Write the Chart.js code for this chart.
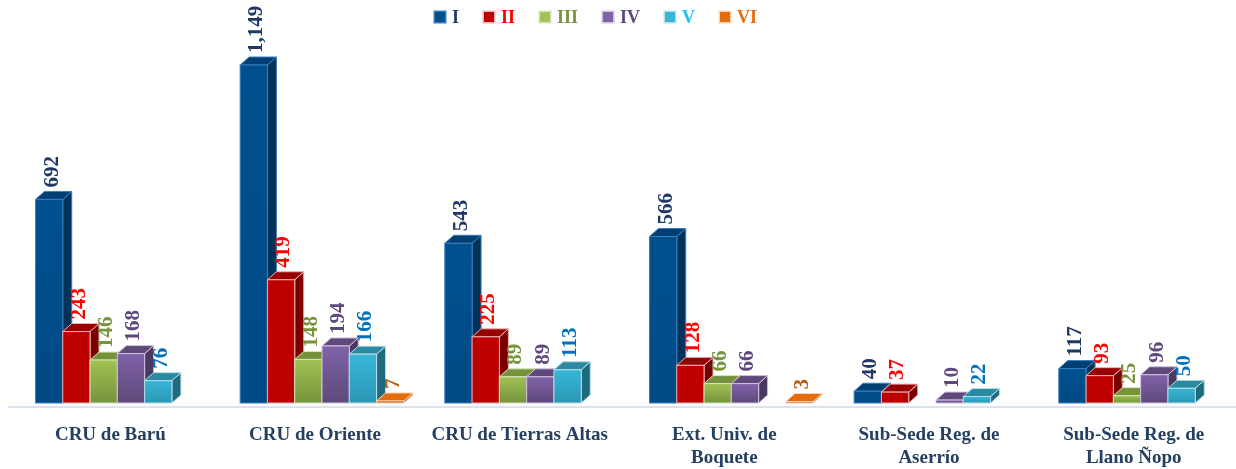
<!DOCTYPE html>
<html>
<head>
<meta charset="utf-8">
<script src="https://cdn.jsdelivr.net/npm/chart.js@4.4.0/dist/chart.umd.min.js"></script>
<style>
html, body { margin: 0; padding: 0; background: #fff; }
#wrap { width: 1236px; height: 469px; position: relative; }
</style>
</head>
<body>
<div id="wrap"><canvas id="chart"></canvas></div>
<script>
const categories = [
    ["CRU de Barú"],
    ["CRU de Oriente"],
    ["CRU de Tierras Altas"],
    ["Ext. Univ. de", "Boquete"],
    ["Sub-Sede Reg. de", "Aserrío"],
    ["Sub-Sede Reg. de", "Llano Ñopo"]
];
const seriesNames = ["I", "II", "III", "IV", "V", "VI"];
const serieI = [692, 1149, 543, 566, 40, 117];
const serieII = [243, 419, 225, 128, 37, 93];
const serieIII = [146, 148, 89, 66, null, 25];
const serieIV = [168, 194, 89, 66, 10, 96];
const serieV = [76, 166, 113, null, 22, 50];
const serieVI = [null, 7, null, 3, null, null];

// colores de cada serie: frente (arriba, abajo), lado, tapa, borde, texto
const estilos = [
    { front: ["#00508e", "#004a85"], side: "#00325a", top: "#003f72", line: "#3a7fc0", text: "#1f3864", legend: "#1f3d6b" },
    { front: ["#c00000", "#bc0000"], side: "#7a0000", top: "#960000", line: "#e8b4b4", text: "#ff0000", legend: "#ff0000" },
    { front: ["#a1c254", "#76933c"], side: "#5c7430", top: "#76933c", line: "#d6e4bc", text: "#77933c", legend: "#77933c" },
    { front: ["#8062a8", "#5f497a"], side: "#4a3a62", top: "#5f497a", line: "#cfc2de", text: "#5f497a", legend: "#5f497a" },
    { front: ["#38b6d8", "#2a97b4"], side: "#1f6a7e", top: "#2b8aa2", line: "#b6dee8", text: "#0070c0", legend: "#22c0f0" },
    { front: ["#c55a11", "#c55a11"], side: "#9a4a10", top: "#e46c0a", line: "#fbd4b4", text: "#b5600f", legend: "#e36c09" }
];

const DX = 9, DY = 8, SHIFT = 7;
const serif = "'Liberation Serif', 'DejaVu Serif', serif";

const bars3d = {
    id: "bars3d",
    beforeDatasetsDraw(chart) {
        const ctx = chart.ctx;
        const a = chart.chartArea;
        ctx.save();
        ctx.strokeStyle = "#d9e2ee";
        ctx.lineWidth = 2;
        ctx.beginPath();
        ctx.moveTo(a.left, a.bottom + 4);
        ctx.lineTo(a.right, a.bottom + 4);
        ctx.stroke();
        ctx.restore();
    },
    afterDatasetsDraw(chart) {
        const ctx = chart.ctx;
        const labels = [];
        for (let j = 0; j < categories.length; j++) {
            chart.data.datasets.forEach((ds, i) => {
                const v = ds.data[j];
                if (v == null) return;
                const bar = chart.getDatasetMeta(i).data[j];
                const st = estilos[i];
                const x0 = bar.x - bar.width / 2 + SHIFT;
                const x1 = bar.x + bar.width / 2 + SHIFT;
                const base = bar.base;
                const top = Math.min(bar.y, base - 1.5);
                ctx.save();
                ctx.lineWidth = 1;
                ctx.strokeStyle = st.line;
                // lado
                ctx.fillStyle = st.side;
                ctx.beginPath();
                ctx.moveTo(x1, base);
                ctx.lineTo(x1 + DX, base - DY);
                ctx.lineTo(x1 + DX, top - DY);
                ctx.lineTo(x1, top);
                ctx.closePath();
                ctx.fill();
                ctx.stroke();
                // tapa
                ctx.fillStyle = st.top;
                ctx.beginPath();
                ctx.moveTo(x0, top);
                ctx.lineTo(x0 + DX, top - DY);
                ctx.lineTo(x1 + DX, top - DY);
                ctx.lineTo(x1, top);
                ctx.closePath();
                ctx.fill();
                ctx.stroke();
                // frente
                const g = ctx.createLinearGradient(0, top, 0, base);
                g.addColorStop(0, st.front[0]);
                g.addColorStop(1, st.front[1]);
                ctx.fillStyle = g;
                ctx.fillRect(x0, top, x1 - x0, base - top);
                ctx.strokeRect(x0, top, x1 - x0, base - top);
                ctx.restore();
                labels.push({ x: bar.x + SHIFT + 3, y: top - DY - 4, text: v.toLocaleString("en-US"), color: st.text });
            });
        }
        ctx.save();
        ctx.font = "bold 21px " + serif;
        ctx.textAlign = "left";
        ctx.textBaseline = "middle";
        labels.forEach(l => {
            ctx.save();
            ctx.translate(l.x, l.y);
            ctx.rotate(-Math.PI / 2);
            ctx.fillStyle = l.color;
            ctx.fillText(l.text, 0, 0);
            ctx.restore();
        });
        ctx.restore();
    },
    afterDraw(chart) {
        // leyenda
        const ctx = chart.ctx;
        ctx.save();
        ctx.font = "bold 18px " + serif;
        ctx.textBaseline = "middle";
        ctx.textAlign = "left";
        let x = 435;
        const y = 17;
        chart.data.datasets.forEach((ds, i) => {
            const st = estilos[i];
            ctx.fillStyle = st.line;
            ctx.fillRect(x - 1.5, y - 6.5, 13, 13);
            ctx.fillStyle = i === 5 ? st.top : st.front[0];
            ctx.fillRect(x, y - 5, 10, 10);
            ctx.fillStyle = st.legend;
            ctx.fillText(ds.label, x + 17, y + 1);
            x += 10 + 7 + ctx.measureText(ds.label).width + 25;
        });
        ctx.restore();
    }
};

const datos = [serieI, serieII, serieIII, serieIV, serieV, serieVI];

new Chart(document.getElementById("chart"), {
    type: "bar",
    data: {
        labels: categories,
        datasets: datos.map((d, i) => ({
            label: seriesNames[i],
            data: d,
            backgroundColor: "rgba(0,0,0,0)",
            borderWidth: 0,
            skipNull: false
        }))
    },
    options: {
        responsive: true,
        maintainAspectRatio: false,
        animation: false,
        layout: { padding: { top: 30, left: 8, right: 0, bottom: 1 } },
        datasets: { bar: { categoryPercentage: 0.8, barPercentage: 1 } },
        plugins: {
            legend: { display: false },
            tooltip: { enabled: false }
        },
        scales: {
            x: {
                grid: { display: false },
                border: { display: false },
                afterFit(scale) { scale.height = 65; },
                ticks: {
                    padding: 13,
                    color: "#243f60",
                    font: { family: serif, size: 19, weight: "bold", lineHeight: "23px" }
                }
            },
            y: {
                display: false,
                min: 0,
                max: 1268
            }
        }
    },
    plugins: [bars3d]
});
</script>
</body>
</html>
